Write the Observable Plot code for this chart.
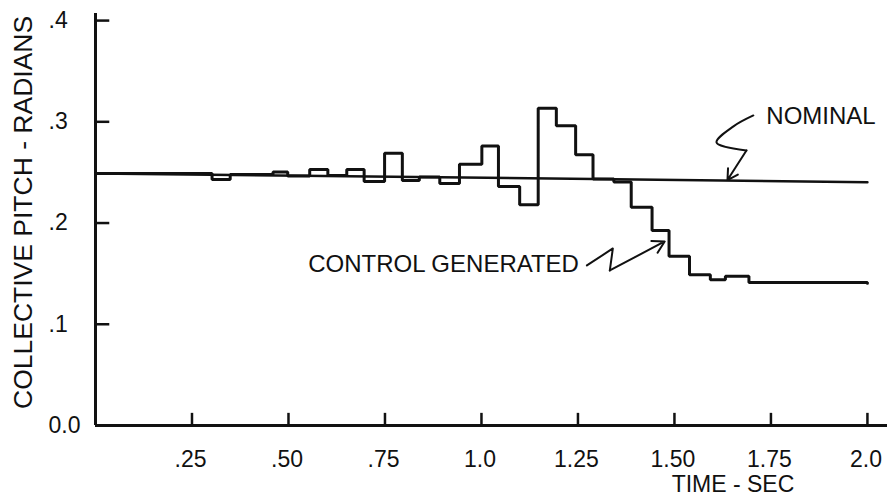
<!DOCTYPE html>
<html>
<head>
<meta charset="utf-8">
<script src="https://cdn.jsdelivr.net/npm/d3@7"></script>
<script src="https://cdn.jsdelivr.net/npm/@observablehq/plot@0.6"></script>
<style>
  html, body { margin: 0; padding: 0; background: #fff; }
  #chart { width: 887px; height: 504px; }
</style>
</head>
<body>
<div id="chart"></div>
<script>
// ---- data ----
const xTicks = [0.25, 0.5, 0.75, 1.0, 1.25, 1.5, 1.75, 2.0];
const xTickLabels = [".25", ".50", ".75", "1.0", "1.25", "1.50", "1.75", "2.0"];
const yTicks = [0, 0.1, 0.2, 0.3, 0.4];
const yTickLabels = ["0.0", ".1", ".2", ".3", ".4"];

const nominalTime = [0, 2.0];
const nominalValue = [0.249, 0.2404];

const controlTime = [0, 0.302, 0.349, 0.460, 0.498, 0.555, 0.602, 0.651, 0.696, 0.749, 0.795, 0.839, 0.892, 0.943, 1.001, 1.044, 1.099, 1.147, 1.194, 1.244, 1.289, 1.343, 1.388, 1.442, 1.486, 1.539, 1.593, 1.632, 1.693, 2.0];
const controlValue = [0.249, 0.243, 0.248, 0.2505, 0.2465, 0.253, 0.247, 0.253, 0.241, 0.269, 0.242, 0.2455, 0.239, 0.258, 0.276, 0.236, 0.218, 0.3135, 0.296, 0.2675, 0.2435, 0.2405, 0.2157, 0.1927, 0.1673, 0.149, 0.144, 0.1475, 0.1412, 0.1405];

// annotation leader lines (data units)
const nomLeadT = [1.7045, 1.6529, 1.6090, 1.6865];
const nomLeadV = [0.3063, 0.2955, 0.2796, 0.2717];
const nomArrow = {x1: 1.6865, y1: 0.2717, x2: 1.6374, y2: 0.2425};
const ctlLeadT = [1.2732, 1.3404, 1.3326];
const ctlLeadV = [0.1581, 0.1749, 0.1532];
const ctlArrow = {x1: 1.3326, y1: 0.1532, x2: 1.4747, y2: 0.1818};

const labels = {
  yTitle: "COLLECTIVE PITCH - RADIANS",
  xTitle: "TIME - SEC",
  nominal: "NOMINAL",
  control: "CONTROL GENERATED"
};

// ---- build tables ----
const nominal = nominalTime.map((t, i) => ({t, v: nominalValue[i]}));
const control = controlTime.map((t, i) => ({t, v: controlValue[i]}));
const nomLead = nomLeadT.map((t, i) => ({t, v: nomLeadV[i]}));
const ctlLead = ctlLeadT.map((t, i) => ({t, v: ctlLeadV[i]}));
const xt = xTicks.map((t, i) => ({t, label: xTickLabels[i]}));
const yt = yTicks.map((v, i) => ({v, label: yTickLabels[i]}));

const ink = "#111";

const chart = Plot.plot({
  width: 887,
  height: 504,
  marginLeft: 95,
  marginRight: 0,
  marginTop: 13,
  marginBottom: 79,
  x: {domain: [0, 2.052], axis: null},
  y: {domain: [0, 0.407], axis: null},
  style: {fontFamily: "'Liberation Sans', Arial, Helvetica, sans-serif", background: "#fff", color: ink},
  marks: [
    // axes
    Plot.ruleY([0], {stroke: ink, strokeWidth: 3}),
    Plot.ruleX([0], {stroke: ink, strokeWidth: 3}),
    Plot.ruleY(yTicks.slice(1), {x1: 0, x2: 0.037, stroke: ink, strokeWidth: 2.5}),
    Plot.ruleX(xTicks, {y1: 0, y2: 0.012, stroke: ink, strokeWidth: 2.5}),
    Plot.text(xt, {x: "t", y: 0, text: "label", dy: 34, dx: -1.5, fontSize: 23, fill: ink}),
    Plot.text(yt, {x: 0, y: "v", text: "label", textAnchor: "start", dx: -47, fontSize: 23, fill: ink}),
    Plot.text([labels.yTitle], {x: -0.186, y: 0.2105, text: d => d, rotate: -90, fontSize: 26.5, fill: ink}),
    Plot.text([labels.xTitle], {x: 1.6516, y: -0.0588, text: d => d, fontSize: 23, fill: ink}),
    // series
    Plot.line(nominal, {x: "t", y: "v", stroke: ink, strokeWidth: 2.5}),
    Plot.line(control, {x: "t", y: "v", curve: "step-after", stroke: ink, strokeWidth: 3, strokeLinejoin: "miter"}),
    // annotations
    Plot.text([labels.nominal], {x: 1.738, y: 0.3053, text: d => d, textAnchor: "start", fontSize: 24, fill: ink}),
    Plot.text([labels.control], {x: 1.2526, y: 0.1591, text: d => d, textAnchor: "end", fontSize: 24, fill: ink}),
    Plot.line(nomLead, {x: "t", y: "v", curve: "catmull-rom", stroke: ink, strokeWidth: 2}),
    Plot.arrow([nomArrow], {x1: "x1", y1: "y1", x2: "x2", y2: "y2", stroke: ink, strokeWidth: 2, headLength: 10}),
    Plot.line(ctlLead, {x: "t", y: "v", stroke: ink, strokeWidth: 2}),
    Plot.arrow([ctlArrow], {x1: "x1", y1: "y1", x2: "x2", y2: "y2", stroke: ink, strokeWidth: 2, headLength: 10})
  ]
});
document.getElementById("chart").append(chart);
</script>
</body>
</html>
